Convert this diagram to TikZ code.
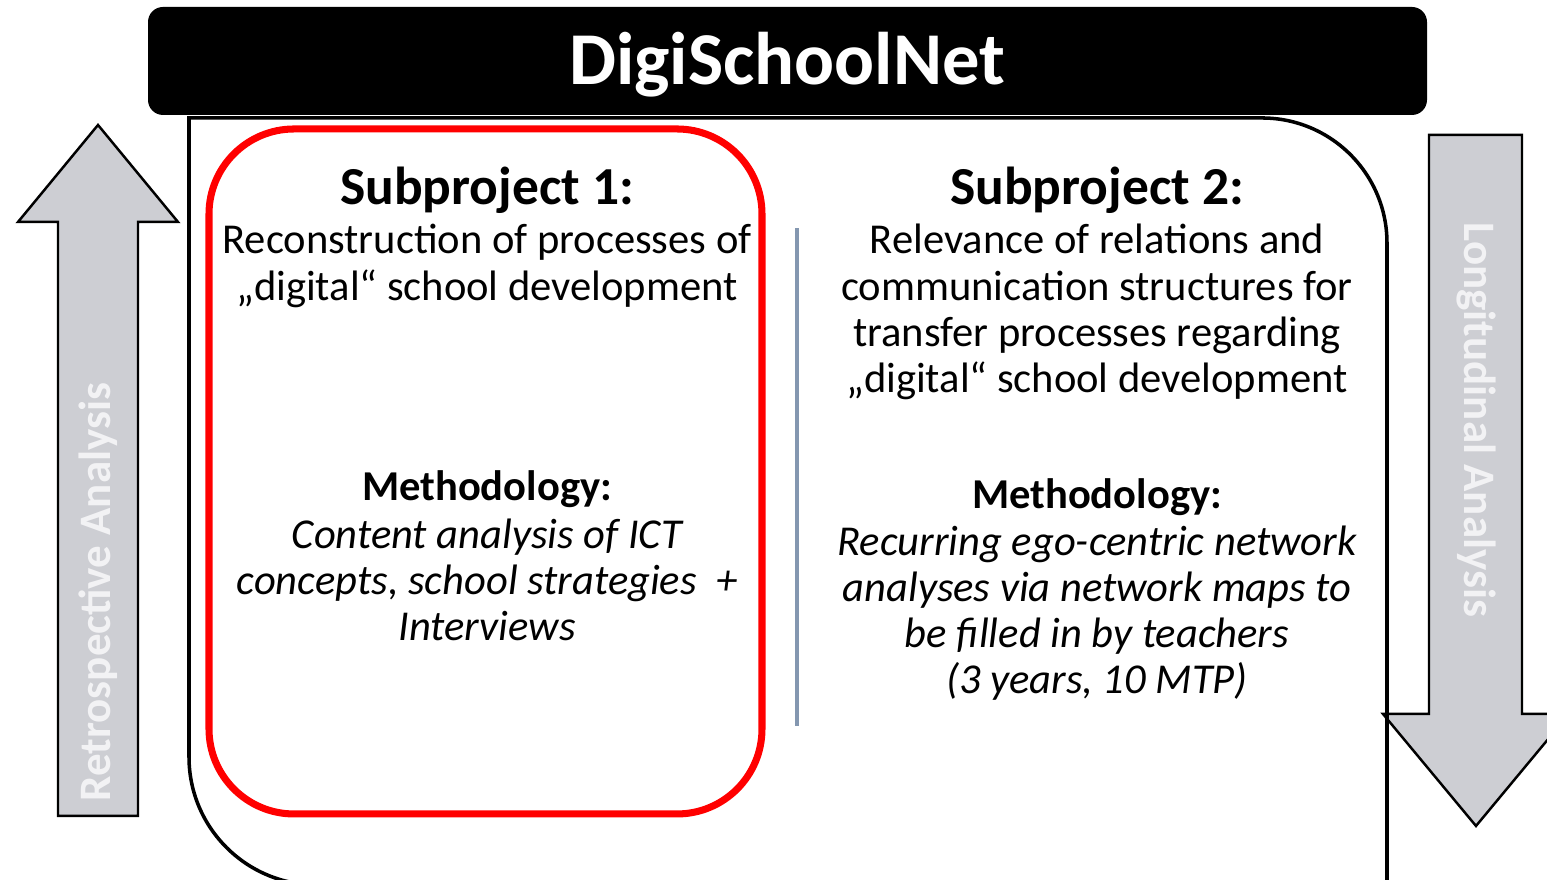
\documentclass[tikz,border=0pt]{standalone}
\usepackage{fontspec}
\setmainfont{Carlito}
\usepackage{tikz}
\usetikzlibrary{positioning}
\usepackage{xcolor}
\definecolor{arrowgray}{RGB}{205,206,211}
\definecolor{arrowtext}{RGB}{242,242,244}
\definecolor{divider}{RGB}{132,151,176}

\begin{document}
\begin{tikzpicture}[x=0.01cm, y=0.01cm,
        bigarrow/.style={draw=black, line width=0.7pt, fill=arrowgray, line join=miter},
        arrowlabel/.style={text=arrowtext, font=\fontsize{12.8}{15}\selectfont\bfseries},
        headline/.style={font=\fontsize{15.2}{17}\selectfont\bfseries},
        methhead/.style={font=\fontsize{12.1}{14}\selectfont\bfseries},
        bodytext/.style={align=center, font=\fontsize{12.1}{13.1}\selectfont},
        methtext/.style={align=center, font=\fontsize{12.1}{13.1}\selectfont\itshape}]
    \useasboundingbox (0,0) rectangle (1547,880);
    % side arrows
    \draw[bigarrow] (58,64) -- (58,658) -- (18,658) -- (98,755) -- (178,658) -- (138,658) -- (138,64) -- cycle;
    \node[arrowlabel, rotate=90] (retro) at (98,288) {Retrospective Analysis};
    \draw[bigarrow] (1429,745) -- (1429,166) -- (1383,166) -- (1476,54) -- (1569,166) -- (1522,166) -- (1522,745) -- cycle;
    \node[arrowlabel, rotate=-90] (longi) at (1476,460) {Longitudinal Analysis};
    % frame
    \draw[line width=1pt] (189,762) -- (1262,762) arc[start angle=90, end angle=0, radius=125]
        -- (1387,-5) -- (317,-5) arc[start angle=270, end angle=180, radius=128] -- cycle;
    % header
    \fill[black, rounded corners=0.15cm] (148,765) rectangle (1427,873);
    \node[text=white, font=\fontsize{21.2}{24}\selectfont\bfseries] (title) at (787,815) {DigiSchoolNet};
    % subproject 1
    \draw[red, line width=2pt, rounded corners=0.85cm] (209,66) rectangle (762,751);
    \node[headline] (sub1head) at (487,690) {Subproject 1:};
    \node[bodytext] (sub1text) at (487,614) {Reconstruction of processes of\\„digital“ school development};
    \node[methhead] (meth1head) at (487,391) {Methodology:};
    \node[methtext] (meth1text) at (487,300) {Content analysis of ICT\\concepts, school strategies ~+\\Interviews};
    % divider
    \draw[divider, line width=1pt] (797,154) -- (797,652);
    % subproject 2
    \node[headline] (sub2head) at (1097,690) {Subproject 2:};
    \node[bodytext] (sub2text) at (1097,568) {Relevance of relations and\\communication structures for\\transfer processes regarding\\„digital“ school development};
    \node[methhead] (meth2head) at (1097,383) {Methodology:};
    \node[methtext] (meth2text) at (1097,267) {Recurring ego-centric network\\analyses via network maps to\\be filled in by teachers\\(3 years, 10 MTP)};
\end{tikzpicture}
\end{document}
